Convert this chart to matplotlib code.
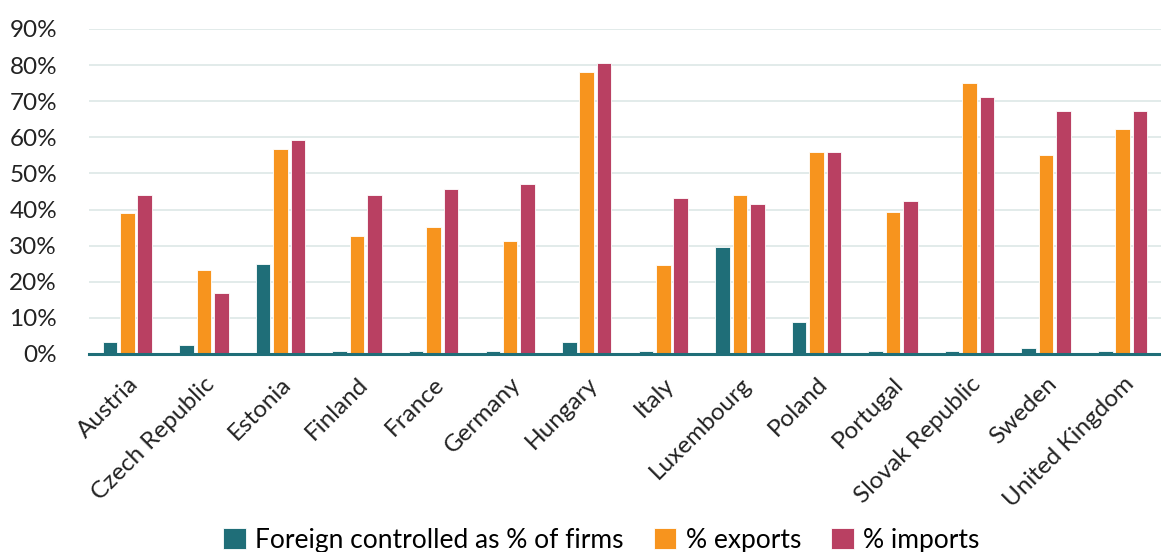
import matplotlib
matplotlib.use("Agg")
import matplotlib.pyplot as plt
import numpy as np
from matplotlib.ticker import PercentFormatter

countries = ["Austria", "Czech Republic", "Estonia", "Finland", "France", "Germany",
             "Hungary", "Italy", "Luxembourg", "Poland", "Portugal", "Slovak Republic",
             "Sweden", "United Kingdom"]
foreign_firms = [3.2, 2.4, 24.8, 0.8, 0.8, 0.8, 3.2, 0.8, 29.6, 8.8, 0.8, 0.8, 1.6, 0.8]
exports = [39.1, 23.2, 56.7, 32.8, 35.2, 31.2, 78.2, 24.7, 44.0, 56.0, 39.2, 75.0, 55.1, 62.3]
imports = [44.0, 16.8, 59.2, 44.0, 45.6, 47.2, 80.7, 43.2, 41.6, 56.0, 42.4, 71.2, 67.2, 67.2]
series_names = ["Foreign controlled as % of firms", "% exports", "% imports"]
colors = ["#1f6e78", "#f7941e", "#b94062"]

plt.rcParams["font.family"] = ["Lato", "DejaVu Sans"]

fig = plt.figure(figsize=(11.61, 5.52), dpi=100)
ax = fig.add_axes([0.0767, 0.3587, 0.9233, 0.5888])

x = np.arange(len(countries))
width = 0.19
step = 0.227
for i, vals in enumerate([foreign_firms, exports, imports]):
    ax.bar(x + (i - 1) * step, vals, width=width, color=colors[i],
           edgecolor="white", linewidth=0.6, label=series_names[i], zorder=3)

ax.set_xlim(-0.5, len(countries) - 0.5)
ax.set_ylim(0, 90)
ax.set_yticks(np.arange(0, 91, 10))
ax.yaxis.set_major_formatter(PercentFormatter(decimals=0))
ax.grid(axis="y", color="#dde8e6", linewidth=1.2, zorder=0)
ax.set_axisbelow(True)

for side in ["top", "right", "left"]:
    ax.spines[side].set_visible(False)
ax.spines["bottom"].set_color("#1f6e78")
ax.spines["bottom"].set_linewidth(2.2)
ax.spines["bottom"].set_zorder(4)

ax.tick_params(axis="y", length=0, pad=23, labelsize=17.5, labelcolor="#222222")
ax.tick_params(axis="x", length=0, pad=14, labelsize=17.5, labelcolor="#222222")
ax.set_xticks(x)
ax.set_xticklabels(countries, rotation=45, ha="right", rotation_mode="anchor")

fig.legend(loc="lower center", bbox_to_anchor=(0.518, -0.045), ncol=3, frameon=False,
           fontsize=19, handlelength=0.85, handleheight=0.85, columnspacing=1.15,
           handletextpad=0.35)

fig.savefig("out.png", dpi=100)
